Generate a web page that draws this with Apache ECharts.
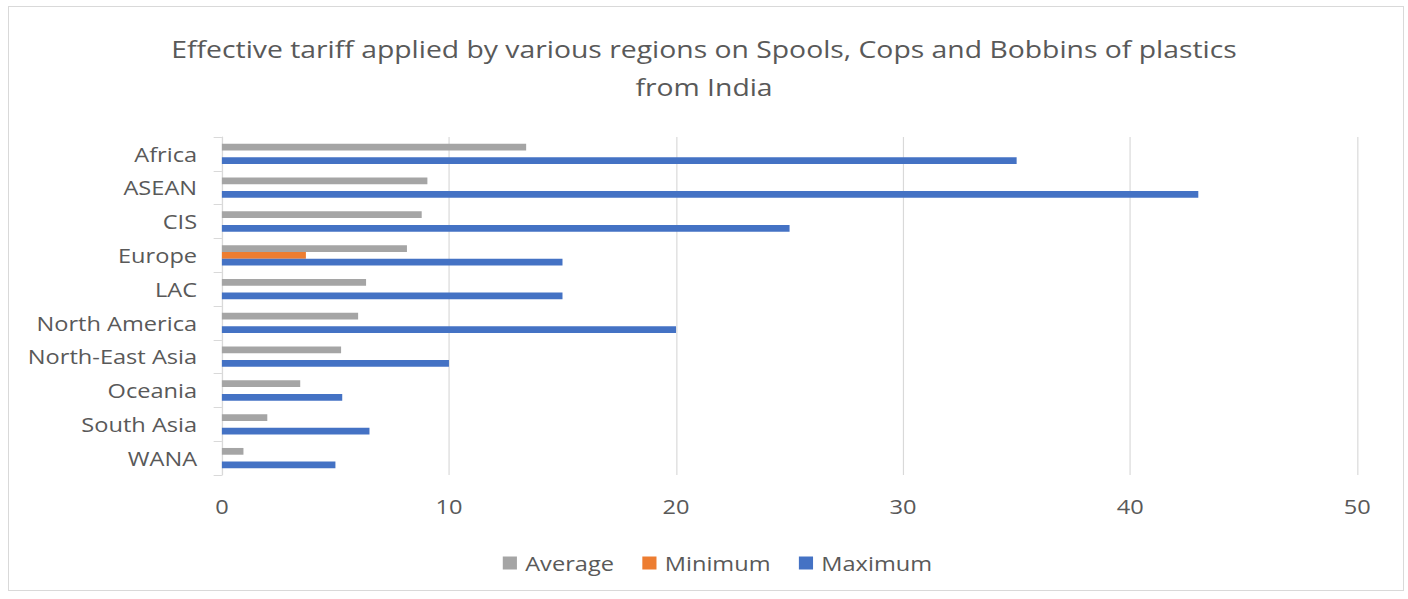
<!DOCTYPE html>
<html>
<head>
<meta charset="utf-8">
<script src="https://cdn.jsdelivr.net/npm/echarts@6/dist/echarts.min.js"></script>
<style>
html,body{margin:0;padding:0;background:#fff;overflow:hidden;}
#wrap{position:absolute;left:8px;top:6px;width:1396px;height:585px;border:1px solid #d9d9d9;box-sizing:border-box;}
#chart{position:absolute;left:0;top:0;width:1193px;height:599px;transform:scaleX(1.18022);transform-origin:0 0;}
</style>
</head>
<body>
<div id="wrap"></div>
<div id="chart"></div>
<script>
const categories = ['Africa','ASEAN','CIS','Europe','LAC','North America','North-East Asia','Oceania','South Asia','WANA'];
const averageValues = [13.4, 9.05, 8.8, 8.15, 6.35, 6.0, 5.25, 3.45, 2.0, 0.95];
const minimumValues = [0, 0, 0, 3.7, 0, 0, 0, 0, 0, 0];
const maximumValues = [35, 43, 25, 15, 15, 20, 10, 5.3, 6.5, 5];
const xTicks = {min: 0, max: 50, interval: 10};

const chart = echarts.init(document.getElementById('chart'), null, {renderer: 'svg'});
const font = '"Open Sans", sans-serif';
chart.setOption({
  animation: false,
  title: {
    text: 'Effective tariff applied by various regions on Spools, Cops and Bobbins of plastics\nfrom India',
    left: 'center', top: 25,
    textStyle: {fontFamily: font, fontSize: 24, fontWeight: 'normal', color: '#595959', lineHeight: 38}
  },
  legend: {
    bottom: 21, left: 421,
    itemWidth: 12, itemHeight: 13, itemGap: 24,
    icon: 'rect',
    textStyle: {fontFamily: font, fontSize: 20, color: '#595959', padding: [0, 0, 0, 2]},
    data: ['Average','Minimum','Maximum']
  },
  grid: {left: 188, right: 43, top: 137, bottom: 124},
  xAxis: {
    type: 'value', min: xTicks.min, max: xTicks.max, interval: xTicks.interval,
    axisLine: {show: false}, axisTick: {show: false},
    splitLine: {lineStyle: {color: '#d9d9d9', width: 1}},
    axisLabel: {fontFamily: font, fontSize: 20, color: '#595959', margin: 21}
  },
  yAxis: {
    type: 'category', data: categories, inverse: true,
    axisLine: {lineStyle: {color: '#d9d9d9'}},
    axisTick: {show: true, length: 7, lineStyle: {color: '#d9d9d9'}},
    axisLabel: {fontFamily: font, fontSize: 20, color: '#595959', margin: 21}
  },
  series: [
    {name: 'Average', type: 'bar', data: averageValues, itemStyle: {color: '#A5A5A5'}, barGap: '0%', barCategoryGap: '40%'},
    {name: 'Minimum', type: 'bar', data: minimumValues, itemStyle: {color: '#ED7D31'}, barGap: '0%', barCategoryGap: '40%'},
    {name: 'Maximum', type: 'bar', data: maximumValues, itemStyle: {color: '#4472C4'}, barGap: '0%', barCategoryGap: '40%'}
  ]
});
</script>
</body>
</html>
